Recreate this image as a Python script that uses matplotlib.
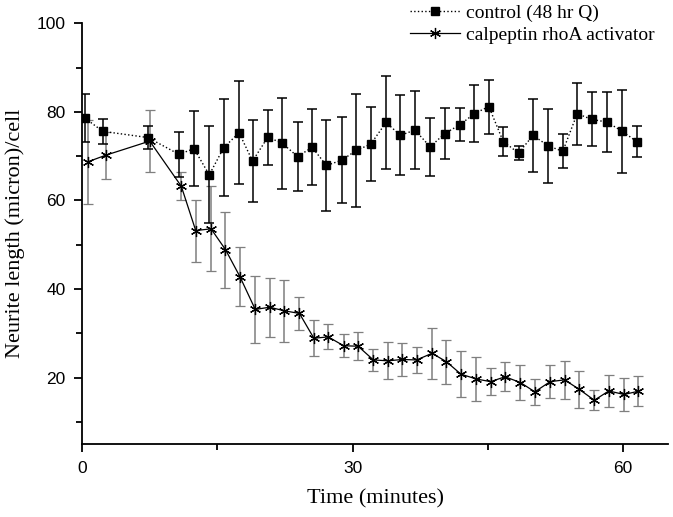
import matplotlib
matplotlib.use("Agg")
from matplotlib import pyplot as plt
from matplotlib.ticker import MultipleLocator

# time points (minutes) and neurite length (micron/cell)
ctrl_t = [0.3, 2.3, 7.3, 10.75, 12.4, 14.1, 15.7, 17.4, 18.9, 20.6, 22.2, 23.9,
          25.5, 27.1, 28.8, 30.4, 32.0, 33.7, 35.3, 36.9, 38.6, 40.2, 41.9, 43.5,
          45.1, 46.7, 48.4, 50.0, 51.7, 53.3, 54.9, 56.5, 58.2, 59.9, 61.5]
ctrl_y = [78.6, 75.6, 74.2, 70.4, 71.7, 65.8, 71.9, 75.3, 68.9, 74.3, 72.9, 69.9,
          72.0, 67.9, 69.1, 71.3, 72.7, 77.6, 74.7, 75.9, 72.1, 75.1, 77.1, 79.6,
          81.2, 73.3, 70.7, 74.7, 72.3, 71.1, 79.6, 78.3, 77.7, 75.6, 73.3]
ctrl_err = [5.5, 2.9, 2.6, 5.0, 8.5, 11.0, 11.0, 11.6, 9.3, 6.2, 10.3, 7.8,
            8.6, 10.3, 9.7, 12.7, 8.3, 10.5, 9.0, 8.7, 6.6, 5.8, 3.7, 6.4,
            6.1, 3.3, 1.5, 8.2, 8.4, 3.8, 7.0, 6.1, 6.7, 9.4, 3.4]

calp_t = [0.6, 2.6, 7.5, 11.0, 12.6, 14.3, 15.9, 17.5, 19.2, 20.8, 22.4, 24.1,
          25.7, 27.3, 29.0, 30.6, 32.3, 33.9, 35.5, 37.1, 38.8, 40.4, 42.0, 43.7,
          45.3, 46.9, 48.6, 50.2, 51.9, 53.5, 55.1, 56.8, 58.4, 60.1, 61.6]
calp_y = [68.7, 70.2, 73.4, 63.2, 53.2, 53.6, 48.9, 42.8, 35.4, 35.9, 35.1, 34.5,
          28.9, 29.2, 27.2, 27.1, 24.0, 23.8, 24.1, 24.0, 25.5, 23.6, 20.8, 19.7,
          19.1, 20.2, 18.9, 16.8, 19.1, 19.5, 17.4, 14.9, 17.0, 16.2, 16.9]
calp_err = [9.4, 5.3, 7.0, 3.2, 7.0, 9.6, 8.6, 6.7, 7.6, 6.7, 7.0, 3.8,
            4.1, 2.8, 2.6, 3.2, 2.4, 4.2, 3.8, 3.0, 5.8, 5.0, 5.2, 5.0,
            3.0, 3.3, 3.9, 2.9, 3.7, 4.3, 4.2, 2.3, 3.6, 3.8, 3.4]

serif = "Liberation Serif"
sans = "Liberation Sans"

fig = plt.figure(figsize=(6.73, 5.17), dpi=100)
ax = fig.add_axes([0.122, 0.141, 0.871, 0.814])

# calpeptin series (grey error bars, asterisk markers)
c2 = ax.errorbar(calp_t, calp_y, yerr=calp_err, color="black", lw=0.9,
                 marker=(6, 2, 0), ms=8, mew=0.9, ecolor="#7f7f7f",
                 elinewidth=1.1, capsize=3.5, capthick=1.1, zorder=2)
# control series (black error bars, square markers, dotted line)
c1 = ax.errorbar(ctrl_t, ctrl_y, yerr=ctrl_err, color="black", ls=":", lw=1.0,
                 marker="s", ms=5.5, ecolor="black", elinewidth=1.1,
                 capsize=3.5, capthick=1.1, zorder=3)

ax.set_xlim(0, 65)
ax.set_ylim(5, 100)
ax.xaxis.set_major_locator(MultipleLocator(30))
ax.xaxis.set_minor_locator(MultipleLocator(15))
ax.yaxis.set_minor_locator(MultipleLocator(10))
ax.set_yticks([20, 40, 60, 80, 100])

for s in ["top", "right"]:
    ax.spines[s].set_visible(False)
for s in ["left", "bottom"]:
    ax.spines[s].set_linewidth(1.3)

ax.tick_params(which="major", direction="out", length=6, width=1.3,
               labelsize=12.5, pad=6)
ax.tick_params(which="minor", direction="out", length=4, width=1.3)
for lab in ax.get_xticklabels() + ax.get_yticklabels():
    lab.set_fontfamily(sans)

ax.set_xlabel("Time (minutes)", fontsize=16, fontfamily=serif, labelpad=10)
ax.set_ylabel("Neurite length (micron)/cell", fontsize=16, fontfamily=serif,
              labelpad=8)

leg = fig.legend([c1.lines[0], c2.lines[0]],
                 ["control (48 hr Q)", "calpeptin rhoA activator"],
                 loc="upper left", bbox_to_anchor=(0.583, 1.025),
                 frameon=False, prop={"family": serif, "size": 14},
                 handlelength=2.6, handletextpad=0.3, labelspacing=0.2)

fig.savefig("out.png", dpi=100)
